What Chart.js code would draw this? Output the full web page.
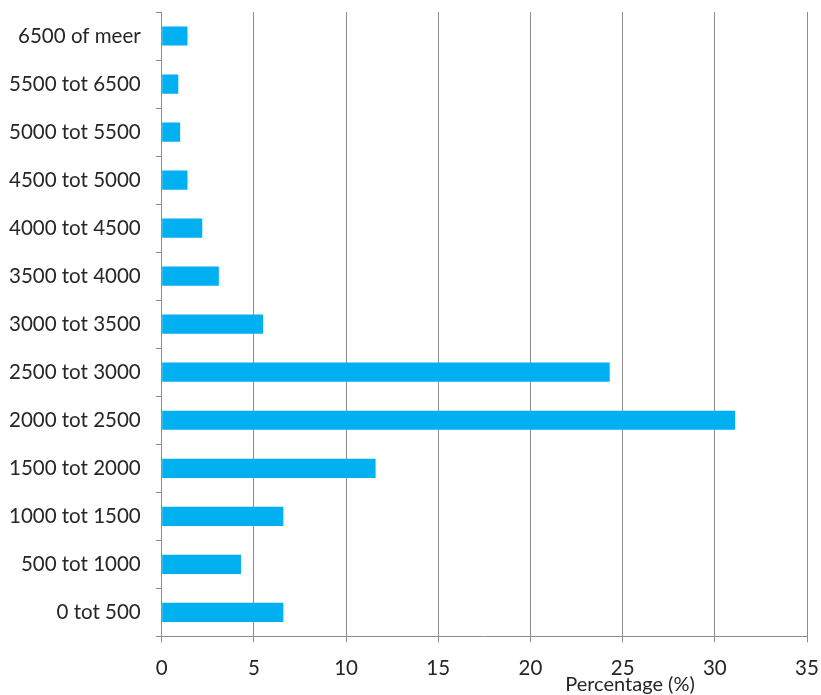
<!DOCTYPE html>
<html>
<head>
<meta charset="utf-8">
<script src="https://cdn.jsdelivr.net/npm/chart.js@4"></script>
<style>
    html, body { margin: 0; padding: 0; background: #fff; }
    #wrap { width: 821px; height: 695px; }
</style>
</head>
<body>
<div id="wrap"><canvas id="barChart"></canvas></div>
<script>
// inkomensklassen, van boven naar beneden
const categories = ["6500 of meer", "5500 tot 6500", "5000 tot 5500", "4500 tot 5000",
    "4000 tot 4500", "3500 tot 4000", "3000 tot 3500", "2500 tot 3000", "2000 tot 2500",
    "1500 tot 2000", "1000 tot 1500", "500 tot 1000", "0 tot 500"];
const percentages = [1.4, 0.9, 1.0, 1.4, 2.2, 3.1, 5.5, 24.3, 31.1, 11.6, 6.6, 4.3, 6.6];
const xTicks = [0, 5, 10, 15, 20, 25, 30, 35];
const axisTitle = "Percentage (%)";

const fontFamily = "Lato, 'Open Sans', sans-serif";
const gridColor = "#8c8c8c";

// axis title sits right of centre in the original
const titlePlugin = {
    id: "xTitle",
    afterDraw(chart) {
        const ctx = chart.ctx;
        ctx.save();
        ctx.font = "20px " + fontFamily;
        ctx.fillStyle = "#262626";
        ctx.textAlign = "center";
        ctx.textBaseline = "middle";
        ctx.fillText(axisTitle, 630, 685);
        ctx.restore();
    }
};

new Chart(document.getElementById("barChart"), {
    type: "bar",
    data: {
        labels: categories,
        datasets: [{
            data: percentages,
            backgroundColor: "#00b0f0",
            barPercentage: 0.4,
            categoryPercentage: 1
        }]
    },
    options: {
        indexAxis: "y",
        responsive: true,
        maintainAspectRatio: false,
        animation: false,
        layout: { padding: { top: 12, right: 14, bottom: 0, left: 0 } },
        scales: {
            x: {
                min: 0,
                max: 35,
                afterBuildTicks: axis => { axis.ticks = xTicks.map(v => ({ value: v })); },
                afterFit: axis => { axis.paddingRight = 0; axis.paddingLeft = 0; },
                grid: { color: gridColor, tickLength: 6, lineWidth: 1 },
                border: { color: gridColor },
                ticks: {
                    color: "#262626",
                    padding: 14,
                    font: { family: fontFamily, size: 20.5 }
                }
            },
            y: {
                afterFit: axis => { axis.paddingTop = 0; axis.paddingBottom = 0; axis.width -= 6; },
                grid: { offset: true, drawOnChartArea: false, color: gridColor, tickLength: 6 },
                border: { color: gridColor },
                ticks: {
                    color: "#262626",
                    padding: 15,
                    font: { family: fontFamily, size: 20.5 }
                }
            }
        },
        plugins: {
            legend: { display: false },
            tooltip: { enabled: false }
        }
    },
    plugins: [titlePlugin]
});
</script>
</body>
</html>
